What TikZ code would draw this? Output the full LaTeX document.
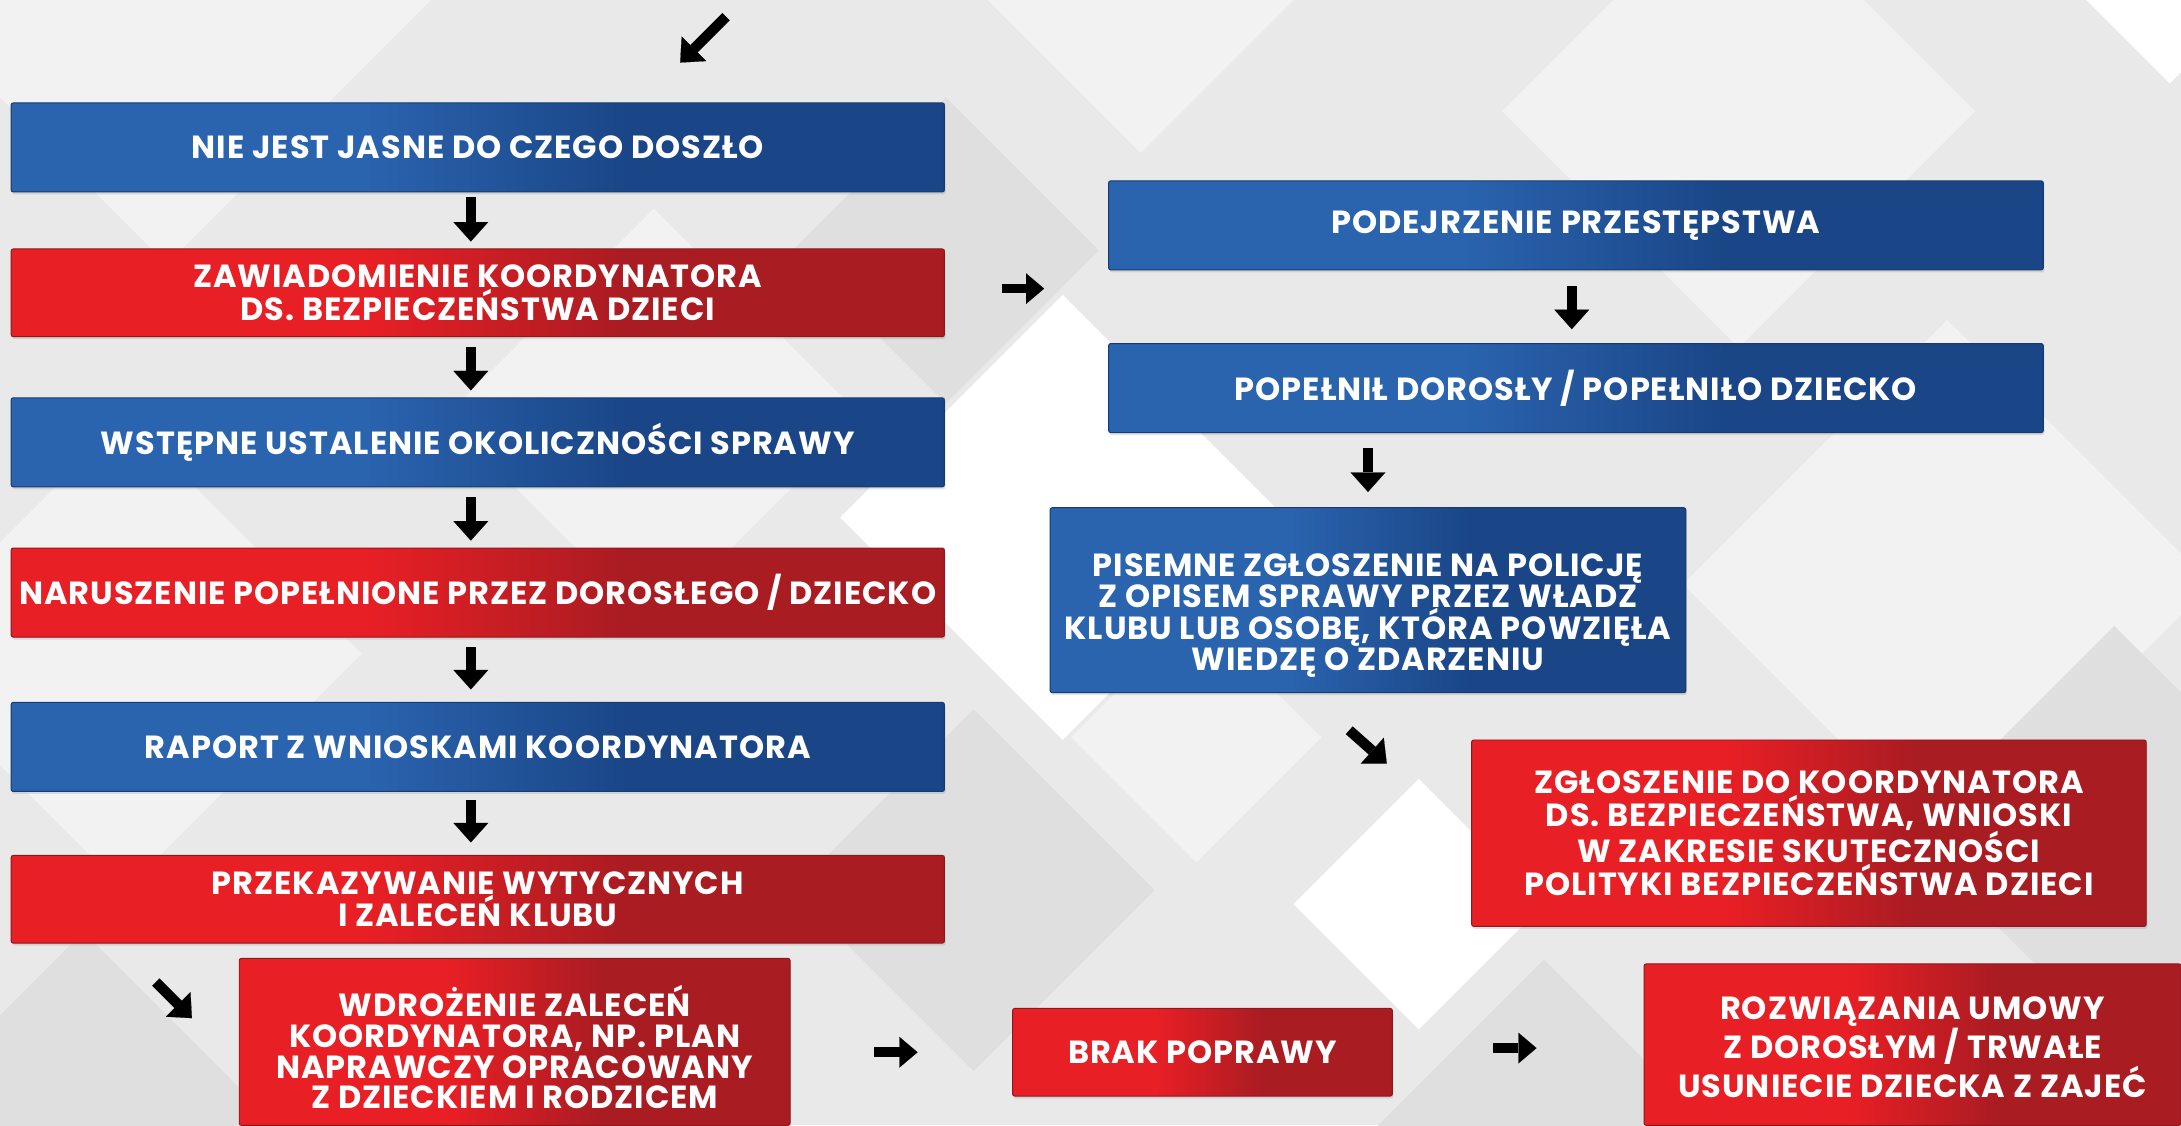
\documentclass[tikz,border=0pt]{standalone}
\usepackage{fontspec}
\setmainfont{Poppins}[LetterSpace=3]
\usetikzlibrary{arrows.meta,calc,shadows}

\definecolor{bgbase}{HTML}{E9E9E9}
\definecolor{bglight}{HTML}{F2F2F2}
\definecolor{bgdark}{HTML}{DFDFDF}
\definecolor{blueL}{HTML}{2A63AE}
\definecolor{blueD}{HTML}{1A4687}
\definecolor{blueB}{HTML}{163B72}
\definecolor{redL}{HTML}{E81F25}
\definecolor{redD}{HTML}{A91C22}
\definecolor{redB}{HTML}{8E171C}

\pgfdeclarehorizontalshading{blueshade}{100bp}{color(0bp)=(blueL); color(25bp)=(blueL); color(44bp)=(blueL); color(58bp)=(blueD); color(75bp)=(blueD); color(100bp)=(blueD)}
\pgfdeclarehorizontalshading{redshade}{100bp}{color(0bp)=(redL); color(25bp)=(redL); color(44bp)=(redL); color(58bp)=(redD); color(75bp)=(redD); color(100bp)=(redD)}

\newcommand\bgdiamond[4]{\fill[#4] (#1,#2) ++(-#3,0) -- ++(#3,-#3) -- ++(#3,#3) -- ++(-#3,#3) -- cycle;}

\tikzset{
  boxfont/.style={font=\bfseries\fontsize{23}{22}\selectfont},
  box/.style={rectangle, rounded corners=1.5pt, inner sep=2pt, align=center,
    text=white, boxfont,
    drop shadow={opacity=0.22, shadow xshift=0.8pt, shadow yshift=-1.8pt}},
  bluebox/.style={box, draw=blueB, line width=0.7pt, shade, shading=blueshade},
  redbox/.style={box, draw=redB, line width=0.7pt, shade, shading=redshade},
  boxtext/.style={align=center, text=white, boxfont, inner sep=0pt},
  barrow/.style={draw=black, line width=7.5pt, -{Triangle[width=25pt,length=14pt,line width=0.1pt]}},
  harrow/.style={draw=black, line width=7pt, -{Triangle[width=22pt,length=13pt,line width=0.1pt]}},
}

\begin{document}
\begin{tikzpicture}[x=1pt,y=-1pt]
\useasboundingbox (0,0) rectangle (1568,809);
% background
\begin{scope}
\clip (0,0) rectangle (1568,809);
\fill[bgbase] (0,0) rectangle (1568,809);
\bgdiamond{120}{-40}{230}{bglight}
\bgdiamond{820}{-30}{140}{bglight}
\bgdiamond{1560}{-20}{80}{white}
\bgdiamond{1250}{80}{170}{bglight}
\bgdiamond{680}{180}{110}{bgdark}
\bgdiamond{470}{300}{150}{bglight}
\bgdiamond{90}{470}{170}{bglight}
\bgdiamond{1400}{420}{190}{bglight}
\bgdiamond{1520}{600}{150}{bgdark}
\bgdiamond{700}{640}{130}{bgdark}
\bgdiamond{60}{800}{130}{bgdark}
\bgdiamond{320}{880}{170}{bgdark}
\bgdiamond{1110}{860}{170}{bgdark}
\bgdiamond{860}{530}{90}{bglight}
\bgdiamond{764}{372}{160}{white}
\bgdiamond{1020}{650}{90}{white}
\end{scope}

% left column
\node[bluebox, minimum width=671pt, minimum height=64pt] (n1) at (343.5,106) {NIE JEST JASNE DO CZEGO DOSZŁO};
\node[redbox, minimum width=671pt, minimum height=63pt] (n2) at (343.5,210.5) {ZAWIADOMIENIE KOORDYNATORA\\DS. BEZPIECZEŃSTWA DZIECI};
\node[bluebox, minimum width=671pt, minimum height=64pt] (n3) at (343.5,318) {WSTĘPNE USTALENIE OKOLICZNOŚCI SPRAWY};
\node[redbox, minimum width=671pt, minimum height=64pt] (n4) at (343.5,426) {NARUSZENIE POPEŁNIONE PRZEZ DOROSŁEGO / DZIECKO};
\node[bluebox, minimum width=671pt, minimum height=64pt] (n5) at (343.5,537) {RAPORT Z WNIOSKAMI KOORDYNATORA};
\node[redbox, minimum width=671pt, minimum height=63pt] (n6) at (343.5,646.5) {PRZEKAZYWANIE WYTYCZNYCH\\I ZALECEŃ KLUBU};
\node[redbox, minimum width=396pt, minimum height=120pt] (n7) at (370,749) {};
\node[boxtext] (t7) at ($(n7.center)+(0,4)$) {WDROŻENIE ZALECEŃ\\KOORDYNATORA, NP. PLAN\\NAPRAWCZY OPRACOWANY\\Z DZIECKIEM I RODZICEM};

% right column
\node[bluebox, minimum width=672pt, minimum height=64pt] (n8) at (1133,162) {PODEJRZENIE PRZESTĘPSTWA};
\node[bluebox, minimum width=672pt, minimum height=64pt] (n9) at (1133,279) {POPEŁNIŁ DOROSŁY / POPEŁNIŁO DZIECKO};
\node[bluebox, minimum width=457pt, minimum height=133pt] (n10) at (983.5,431.5) {};
\node[boxtext] (t10) at ($(n10.center)+(0,11)$) {PISEMNE ZGŁOSZENIE NA POLICJĘ\\Z OPISEM SPRAWY PRZEZ WŁADZ\\KLUBU LUB OSOBĘ, KTÓRA POWZIĘŁA\\WIEDZĘ O ZDARZENIU};
\node[redbox, minimum width=485pt, minimum height=134pt] (n11) at (1300.5,599) {ZGŁOSZENIE DO KOORDYNATORA\\DS. BEZPIECZEŃSTWA, WNIOSKI\\W ZAKRESIE SKUTECZNOŚCI\\POLITYKI BEZPIECZEŃSTWA DZIECI};
\node[redbox, minimum width=273pt, minimum height=63pt] (n12) at (864.5,756.5) {BRAK POPRAWY};
\node[redbox, minimum width=386pt, minimum height=116pt] (n13) at (1375,751) {};
\node[boxtext] (t13) at ($(n13.center)+(0,2)$) {ROZWIĄZANIA UMOWY\\Z DOROSŁYM / TRWAŁE\\USUNIECIE DZIECKA Z ZAJEĆ};

% free-end coordinates for diagonal arrows
\coordinate (topS) at (522,12);
\coordinate (topE) at (489,45);
\coordinate (d7S) at (112,706);
\coordinate (d7E) at (138,732);
\coordinate (d11S) at (970,525);
\coordinate (d11E) at (997,549);

% arrows
\draw[barrow] (topS) -- (topE);
\draw[barrow, shorten <=3pt, shorten >=5pt] ([xshift=-5pt]n1.south) -- ([xshift=-5pt]n2.north);
\draw[barrow, shorten <=7pt, shorten >=5pt] ([xshift=-5pt]n2.south) -- ([xshift=-5pt]n3.north);
\draw[barrow, shorten <=7pt, shorten >=5pt] ([xshift=-5pt]n3.south) -- ([xshift=-5pt]n4.north);
\draw[barrow, shorten <=7pt, shorten >=9pt] ([xshift=-5pt]n4.south) -- ([xshift=-5pt]n5.north);
\draw[barrow, shorten <=6pt, shorten >=9pt] ([xshift=-5pt]n5.south) -- ([xshift=-5pt]n6.north);
\draw[barrow] (d7S) -- (d7E);
\draw[harrow, shorten <=41pt, shorten >=46pt] ([yshift=3pt]n2.east) -- ([yshift=3pt]n2.east -| n8.west);
\draw[barrow, shorten <=11pt, shorten >=10pt] ([xshift=-3pt]n8.south) -- ([xshift=-3pt]n9.north);
\draw[barrow, shorten <=11pt, shorten >=11pt] (n10.north |- n9.south) -- (n10.north);
\draw[barrow] (d11S) -- (d11E);
\draw[harrow, shorten <=60pt, shorten >=68pt] (n7.east |- n12.west) -- (n12.west);
\draw[harrow, shorten <=72pt, shorten >=77pt] ([yshift=3pt]n12.east) -- ([yshift=3pt]n12.east -| n13.west);
\end{tikzpicture}
\end{document}
